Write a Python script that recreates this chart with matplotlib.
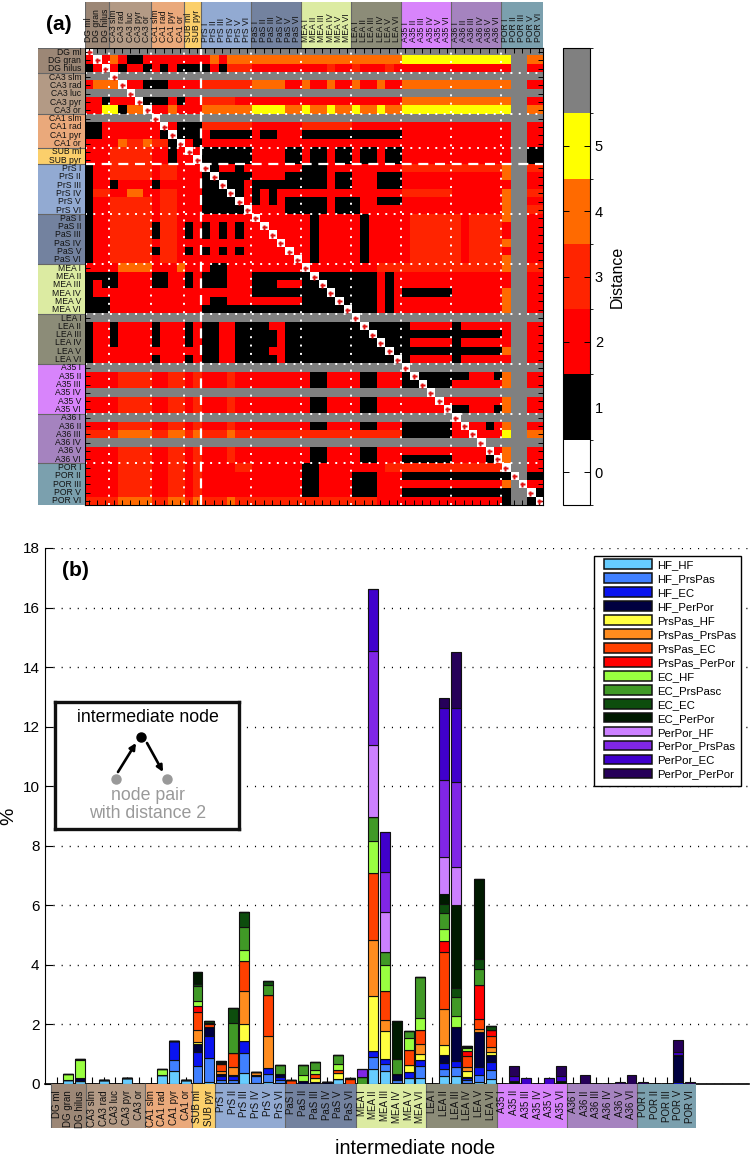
import numpy as np
import matplotlib
matplotlib.use('Agg')
import matplotlib.pyplot as plt
from matplotlib.colors import ListedColormap, BoundaryNorm
from matplotlib.patches import Rectangle, FancyArrowPatch

plt.rcParams['font.family'] = ['Liberation Sans', 'DejaVu Sans']

W, H = 750, 1159

# node names and the groups they belong to
group_names = ['DG', 'CA3', 'CA1', 'SUB', 'PrS', 'PaS', 'MEA', 'LEA', 'A35', 'A36', 'POR']
group_sizes = [3, 5, 4, 2, 6, 6, 6, 6, 6, 6, 5]
group_colors = ['#9c8776', '#b39a85', '#eaa97b', '#fbcf6b', '#92aad2', '#73829f',
                '#dcebA2', '#8c8c78', '#d884fb', '#a583bf', '#7ba0ae']
nodes = ['DG ml', 'DG gran', 'DG hilus',
         'CA3 slm', 'CA3 rad', 'CA3 luc', 'CA3 pyr', 'CA3 or',
         'CA1 slm', 'CA1 rad', 'CA1 pyr', 'CA1 or',
         'SUB ml', 'SUB pyr',
         'PrS I', 'PrS II', 'PrS III', 'PrS IV', 'PrS V', 'PrS VI',
         'PaS I', 'PaS II', 'PaS III', 'PaS IV', 'PaS V', 'PaS VI',
         'MEA I', 'MEA II', 'MEA III', 'MEA IV', 'MEA V', 'MEA VI',
         'LEA I', 'LEA II', 'LEA III', 'LEA IV', 'LEA V', 'LEA VI',
         'A35 I', 'A35 II', 'A35 III', 'A35 IV', 'A35 V', 'A35 VI',
         'A36 I', 'A36 II', 'A36 III', 'A36 IV', 'A36 V', 'A36 VI',
         'POR I', 'POR II', 'POR III', 'POR V', 'POR VI']

# distance matrix, one string per row, split by group. 6 = no data (gray)
distance_rows = [
    '066 66666 6666 66 666666 666666 666666 666666 666666 666666 66666',
    '202 42112 2222 22 242444 444444 444444 444444 555555 555555 56644',
    '120 21221 2121 11 121333 222222 222322 322232 222222 222222 26622',
    '666 06666 6666 66 666666 666666 666666 666666 666666 666666 66666',
    '244 40221 1122 22 333333 444422 422422 422422 444444 444444 46622',
    '666 66066 6666 66 666666 666666 666666 666666 666666 666666 66666',
    '221 22201 1121 22 333322 222222 222222 222222 444444 444444 46622',
    '225 51440 2242 22 444444 555544 544544 544544 555555 555555 56644',
    '666 66666 0666 66 666666 666666 666666 666666 666666 666666 66666',
    '112 22222 2021 11 333333 222222 333333 222222 222222 222222 26622',
    '112 22222 2101 11 211111 211222 111111 111111 222222 222222 26622',
    '222 24334 3310 21 222222 222222 222222 222222 222222 222222 26622',
    '222 33333 2212 02 111111 222211 211211 211211 222222 222222 26611',
    '222 33333 2212 20 111111 222211 211211 211211 222222 222222 26611',
    '122 33333 2332 22 012212 222222 111222 222222 333333 333333 46633',
    '122 33333 2332 22 101111 222211 111211 222111 222222 222222 46622',
    '122 12222 1222 22 110112 111111 111211 222111 222222 222222 26622',
    '133 22442 2332 22 111012 121222 222222 222222 333333 222222 46633',
    '122 33333 2332 22 111102 121211 111211 122111 222222 222222 46622',
    '122 33333 2332 22 111110 222211 111211 122222 222222 222222 46633',
    '122 33333 2332 22 222222 022222 212222 212222 233333 323333 46622',
    '122 33333 1332 12 121212 202222 212222 212222 233333 323333 26622',
    '122 33333 1332 12 121212 220222 212222 212222 233333 323333 26622',
    '122 33333 2332 22 222222 222022 212222 212222 233333 323333 46622',
    '122 33333 1332 12 121212 222202 212222 212222 233333 323333 26622',
    '122 33333 2332 22 222222 222220 212222 212222 233333 323333 46622',
    '222 24444 2224 22 211222 222222 022222 222333 333333 333333 46633',
    '111 12222 1122 12 111222 111111 101111 111212 222222 222222 26622',
    '121 12222 1122 12 111222 111222 110111 111212 222222 222222 26622',
    '122 22222 2222 22 222222 111111 111011 111212 111111 222222 46622',
    '111 22222 2222 22 211222 222222 111101 111212 222222 222222 46622',
    '111 22222 2222 22 111111 111111 111110 111212 222222 222222 46622',
    '666 66666 6666 66 666666 666666 666666 066666 666666 666666 66666',
    '122 12222 1222 12 112211 112211 111111 101111 122222 122222 26622',
    '122 12222 1222 12 112211 111211 111111 110111 111111 111111 26622',
    '122 12222 1222 12 112211 111211 111111 111011 122222 122222 26622',
    '122 22222 2222 22 112211 112211 111111 111101 111111 111111 46622',
    '122 22222 1222 12 112211 111211 111111 111110 122222 122222 26622',
    '666 66666 6666 66 666666 666666 666666 666666 066666 666666 66666',
    '222 23333 2233 23 222322 222222 211222 211222 101111 112221 46622',
    '222 23333 2233 23 222322 222222 211222 211222 110111 222222 46622',
    '666 66666 6666 66 666666 666666 666666 666666 666066 666666 66666',
    '222 23333 2233 23 222322 222222 211222 211222 222202 222222 46622',
    '222 23333 2233 23 222322 222222 211222 211222 222220 112221 46622',
    '666 66666 6666 66 666666 666666 666666 666666 666666 066666 66666',
    '222 23333 2233 23 222322 222222 211222 211222 111111 202212 46622',
    '333 34444 3344 34 333433 333333 333333 333333 111111 220222 56644',
    '666 66666 6666 66 666666 666666 666666 666666 666666 666066 66666',
    '222 23333 2233 23 222322 222222 211222 211222 222222 222202 46622',
    '222 23333 2233 23 222322 222222 211222 211222 111111 222210 46622',
    '222 23333 2233 23 222233 222222 112222 222233 333333 333333 06622',
    '222 23333 2233 23 222222 222222 112222 111222 111111 111111 10611',
    '222 23333 2233 23 222222 222222 112222 111222 222222 222222 46022',
    '222 23333 2233 23 222222 222222 112222 111222 111111 111111 16601',
    '333 34444 3344 34 333433 333333 333333 333222 222222 222222 16610',
]
distance_colors = ['#ffffff', '#000000', '#ff0000', '#ff2400', '#ff6a00', '#ffff00', '#808080']
distance_ticks = [0, 1, 2, 3, 4, 5]

# share of shortest paths per intermediate node, in %
# each list runs DG, CA3, CA1, SUB, PrS, PaS, MEA, LEA, A35, A36, POR
hf_hf = [0, .12, .08,  0, .12, 0, .2, 0,  0, .3, .43, .14,  .03, .05,
         .02, .02, .35, .03, .05, .02,  0, 0, 0, 0, .15, 0,
         0, .48, .42, .03, .2, .2,  0, .25, .25, .02, .05, .17,
         0, 0, 0, 0, 0, 0,  0, 0, 0, 0, 0, 0,  0, 0, 0, 0, 0]
hf_prspas = [0, 0, 0,  0, 0, 0, 0, 0,  0, 0, .35, 0,  .55, .82,
             .1, .12, .68, .22, .27, .12,  0, 0, 0, 0, 0, 0,
             0, .42, .25, .1, 0, .4,  0, .25, .3, .1, .25, .3,
             0, 0, 0, 0, 0, 0,  0, 0, 0, 0, 0, 0,  0, 0, 0, 0, 0]
hf_ec = [0, 0, 0,  0, 0, 0, 0, 0,  0, 0, .66, 0,  .49, .74,
         .15, .13, .4, 0, .2, .1,  0, 0, 0, 0, 0, 0,
         0, .2, .17, 0, .2, .2,  0, .2, .2, .07, .26, .26,
         0, 0, 0, 0, 0, 0,  0, 0, 0, 0, 0, 0,  0, 0, 0, .07, 0]
hf_perpor = [0, 0, .1,  0, 0, 0, 0, 0,  0, 0, 0, 0,  .27, .31,
             .05, .03, 0, .03, 0, .08,  0, .1, .05, .05, 0, 0,
             0, 0, 0, .2, 0, 0,  0, .25, 1.15, .05, 1.17, .22,
             0, 0, 0, 0, 0, 0,  0, 0, 0, 0, 0, 0,  0, 0, 0, .88, 0]
prspas_hf = [0, 0, 0,  0, 0, 0, 0, 0,  0, 0, 0, 0,  .06, 0,
             0, 0, .58, 0, 0, 0,  0, 0, .13, 0, .2, 0,
             0, 1.85, .92, 0, .22, .2,  0, .34, 0, .2, 0, .13,
             0, 0, 0, 0, 0, 0,  0, 0, 0, 0, 0, 0,  0, 0, 0, 0, 0]
prspas_prspas = [0, 0, 0,  0, 0, 0, 0, 0,  0, 0, 0, 0,  .42, 0,
                 .1, .27, 1.12, .1, 1.07, 0,  0, 0, 0, 0, 0, 0,
                 0, 1.88, .39, 0, 0, .35,  0, 1.21, 0, .13, .1, .14,
                 0, 0, 0, 0, 0, 0,  0, 0, 0, 0, 0, 0,  0, 0, 0, 0, 0]
prspas_ec = [0, 0, 0,  0, 0, 0, 0, 0,  0, 0, 0, 0,  .59, .1,
             .23, .47, .98, 0, 1.38, 0,  .14, 0, .13, 0, .12, .17,
             0, 2.26, .98, 0, .5, .47,  0, 1.91, 0, .35, .35, .37,
             0, 0, 0, 0, 0, 0,  0, 0, 0, 0, 0, 0,  0, 0, 0, 0, 0]
prspas_perpor = [0, 0, 0,  0, 0, 0, 0, 0,  0, 0, 0, 0,  .19, .03,
                 0, 0, 0, 0, 0, 0,  0, 0, 0, 0, 0, 0,
                 0, 0, 0, 0, 0, 0,  0, .38, 0, .17, 1.13, .2,
                 0, 0, 0, 0, 0, 0,  0, 0, 0, 0, 0, 0,  0, 0, 0, 0, 0]
ec_hf = [0, .2, .6,  0, 0, 0, 0, 0,  0, .18, 0, 0,  .18, 0,
         0, 0, .37, 0, 0, 0,  0, .2, .14, 0, .2, 0,
         0, 1.05, .85, 0, .4, .4,  0, .4, .37, .1, 0, 0,
         0, 0, 0, 0, 0, 0,  0, 0, 0, 0, 0, 0,  0, 0, 0, 0, 0]
ec_prspasc = [0, 0, .04,  0, 0, 0, 0, 0,  0, 0, 0, 0,  .49, 0,
              .04, .99, .78, 0, .35, .32,  0, .33, .27, 0, .3, .03,
              .22, .81, .46, .5, .25, 1.35,  0, .54, .65, .05, .55, 0,
              0, 0, 0, 0, 0, 0,  0, 0, 0, 0, 0, 0,  0, 0, 0, 0, 0]
ec_ec = [0, 0, 0,  0, 0, 0, 0, 0,  0, 0, 0, 0,  .09, .04,
         .04, .5, .5, 0, .12, 0,  0, 0, 0, 0, 0, 0,
         0, 0, 0, 0, 0, 0,  0, .32, .3, .04, .32, .14,
         0, 0, 0, 0, 0, 0,  0, 0, 0, 0, 0, 0,  0, 0, 0, 0, 0]
ec_perpor = [0, 0, 0,  0, 0, 0, 0, 0,  0, 0, 0, 0,  .39, 0,
             .04, 0, 0, 0, 0, 0,  0, 0, 0, 0, 0, 0,
             0, 0, 0, 1.27, 0, 0,  0, .31, 2.79, 0, 2.71, 0,
             0, .1, 0, 0, 0, .1,  0, 0, 0, 0, 0, 0,  0, 0, 0, 0, 0]
perpor_hf = [0, 0, 0,  0, 0, 0, 0, 0,  0, 0, 0, 0,  0, 0,
             0, 0, 0, 0, 0, 0,  0, 0, 0, 0, 0, 0,
             0, 2.44, 1.33, 0, 0, 0,  0, 1.27, 1.27, 0, 0, 0,
             0, 0, 0, 0, 0, 0,  0, 0, 0, 0, 0, 0,  0, 0, 0, 0, 0]
perpor_prspas = [0, 0, 0,  0, 0, 0, 0, 0,  0, 0, 0, 0,  0, 0,
                 0, 0, 0, 0, 0, 0,  0, 0, 0, 0, 0, 0,
                 .28, 3.16, 1.35, 0, 0, 0,  0, 2.56, 2.87, 0, 0, 0,
                 0, 0, 0, 0, 0, 0,  0, 0, 0, 0, 0, 0,  0, 0, 0, 0, 0]
perpor_ec = [0, 0, 0,  0, 0, 0, 0, 0,  0, 0, 0, 0,  0, 0,
             0, 0, 0, 0, 0, 0,  0, 0, 0, 0, 0, 0,
             0, 2.06, 1.34, 0, 0, 0,  0, 2.43, 2.46, 0, 0, 0,
             0, .15, .2, 0, .2, .15,  0, 0, 0, 0, 0, 0,  0, 0, 0, .1, 0]
perpor_perpor = [0, 0, 0,  0, 0, 0, 0, 0,  0, 0, 0, 0,  0, 0,
                 0, 0, 0, 0, 0, 0,  0, 0, 0, 0, 0, 0,
                 0, 0, 0, 0, 0, 0,  0, .33, 1.89, 0, 0, 0,
                 0, .35, 0, 0, 0, .35,  0, .28, 0, 0, .06, .28,  .07, 0, 0, .43, .07]

series_names = ['HF_HF', 'HF_PrsPas', 'HF_EC', 'HF_PerPor',
                'PrsPas_HF', 'PrsPas_PrsPas', 'PrsPas_EC', 'PrsPas_PerPor',
                'EC_HF', 'EC_PrsPasc', 'EC_EC', 'EC_PerPor',
                'PerPor_HF', 'PerPor_PrsPas', 'PerPor_EC', 'PerPor_PerPor']
series_values = [hf_hf, hf_prspas, hf_ec, hf_perpor,
                 prspas_hf, prspas_prspas, prspas_ec, prspas_perpor,
                 ec_hf, ec_prspasc, ec_ec, ec_perpor,
                 perpor_hf, perpor_prspas, perpor_ec, perpor_perpor]
series_colors = ['#66ccff', '#4080ff', '#0a14f0', '#000040',
                 '#ffff40', '#ff8c1e', '#ff4000', '#ff0000',
                 '#99ff40', '#409926', '#0d4d0d', '#001a00',
                 '#cc80ff', '#8026e6', '#4000cc', '#260059']


def box(left, top, right, bottom):
    # axes rectangle from pixel edges of the picture
    return [left / W, 1 - bottom / H, (right - left) / W, (bottom - top) / H]


def draw_strip(ax, vertical):
    # colored group blocks with one label per node
    ax.set_xticks([])
    ax.set_yticks([])
    for s in ax.spines.values():
        s.set_visible(False)
    start = -0.5
    for size, color in zip(group_sizes, group_colors):
        if vertical:
            ax.axhspan(start, start + size, color=color, lw=0)
            ax.axhline(start, color='#666666', lw=0.8)
        else:
            ax.axvspan(start, start + size, color=color, lw=0)
            ax.axvline(start, color='#666666', lw=0.8)
        start += size


matrix = np.array([[int(c) for c in row.replace(' ', '')] for row in distance_rows])
n = len(nodes)
edges = np.cumsum(group_sizes)[:-1] - 0.5

fig = plt.figure(figsize=(W / 100, H / 100), dpi=100)

# (a) distance matrix
ax_a = fig.add_axes(box(84.5, 48, 542.7, 505))
cmap = ListedColormap(distance_colors)
norm = BoundaryNorm(np.arange(-0.5, 7.5), cmap.N)
im = ax_a.imshow(matrix, cmap=cmap, norm=norm, aspect='auto', interpolation='nearest')
ax_a.plot(range(n), range(n), ls='none', marker='P', ms=3.6, mfc='#e01010', mec='none')
for e in edges:
    if e == 13.5:
        ax_a.axvline(e, color='white', lw=1.6, ls=(0, (4.5, 3)))
        ax_a.axhline(e, color='white', lw=1.6, ls=(0, (4.5, 3)))
    else:
        ax_a.axvline(e, color='white', lw=1.4, ls=(0, (1, 3.29)))
        ax_a.axhline(e, color='white', lw=1.4, ls=(0, (1, 3.29)))
ax_a.set_xticks(range(n))
ax_a.set_yticks(range(n))
ax_a.tick_params(direction='in', length=3.5, width=0.7, top=True, right=True,
                 labelleft=False, labelbottom=False)
for s in ax_a.spines.values():
    s.set_linewidth(0.8)
ax_a.set_xlim(-0.5, n - 0.5)
ax_a.set_ylim(n - 0.5, -0.5)

ax_top = fig.add_axes(box(84.5, 2, 542.7, 48))
ax_top.set_xlim(-0.5, n - 0.5)
ax_top.set_ylim(0, 1)
draw_strip(ax_top, False)
for i, name in enumerate(nodes):
    ax_top.text(i, 0.13, name, rotation=90, ha='center', va='bottom', fontsize=6.2, color='#111111')

ax_left = fig.add_axes(box(38, 48, 84.5, 505))
ax_left.set_xlim(0, 1)
ax_left.set_ylim(n - 0.5, -0.5)
draw_strip(ax_left, True)
for i, name in enumerate(nodes):
    ax_left.text(0.93, i, name, ha='right', va='center', fontsize=6.2, color='#111111')

fig.text(46 / W, 1 - 25 / H, '(a)', fontsize=15, fontweight='bold', va='center')

cax = fig.add_axes(box(563, 48, 590, 505))
cbar = fig.colorbar(im, cax=cax, ticks=distance_ticks)
cbar.ax.tick_params(direction='in', length=4, width=0.7, left=True, right=True, labelsize=10.5)
cbar.outline.set_linewidth(0.8)
cbar.set_label('Distance', fontsize=11.5, labelpad=5)

# (b) stacked bars
ax_b = fig.add_axes(box(45, 548, 748.8, 1083.7))
bottom = np.zeros(n)
x = np.arange(n)
for name, values, color in zip(series_names, series_values, series_colors):
    ax_b.bar(x, values, 0.85, bottom=bottom, color=color, edgecolor='#101010', lw=0.8,
             label=name, zorder=3)
    bottom += np.array(values)
ax_b.set_xlim(-1, 59)
ax_b.set_ylim(0, 18)
ax_b.set_yticks(range(0, 19, 2))
ax_b.set_xticks(x)
ax_b.set_xticklabels([])
ax_b.tick_params(axis='x', direction='in', length=5, width=0.8)
ax_b.tick_params(axis='y', direction='in', length=6, width=0.8, labelsize=11, pad=4)
ax_b.grid(axis='y', color='black', lw=1, ls=(0, (0.8, 5)))
ax_b.set_axisbelow(True)
ax_b.spines['top'].set_visible(False)
ax_b.spines['right'].set_visible(False)
ax_b.spines['bottom'].set_linewidth(1.2)
fig.text(9 / W, 1 - 816 / H, '%', fontsize=14, rotation=90, ha='center', va='center')

# legend frame is placed on its own so the inner padding can differ per side
ax_b.add_patch(Rectangle(((594 - 45) / 703.8, 1 - (785.7 - 548) / 535.7), 147 / 703.8, 229.7 / 535.7,
                         transform=ax_b.transAxes, facecolor='white', edgecolor='black', lw=1, zorder=4))
leg = ax_b.legend(loc='upper left', bbox_to_anchor=((604 - 45) / 703.8, 1 - (559.5 - 548) / 535.7),
                  borderaxespad=0, borderpad=0, fontsize=8.2, handlelength=4.2, handleheight=0.9,
                  handletextpad=0.45, labelspacing=0.29, frameon=False)
leg.set_zorder(5)
for h in leg.legend_handles:
    h.set_linewidth(1.1)

ax_strip = fig.add_axes(box(45, 1084, 748.8, 1128))
ax_strip.set_xlim(-1, 59)
ax_strip.set_ylim(1, 0)
ax_strip.patch.set_alpha(0)
draw_strip(ax_strip, False)
for i, name in enumerate(nodes):
    ax_strip.text(i, 0.14, name, rotation=90, ha='center', va='top', fontsize=7, color='#111111')
fig.text(415 / W, 1 - 1149 / H, 'intermediate node', fontsize=14.4, ha='center', va='center')
fig.text(62 / W, 1 - 570 / H, '(b)', fontsize=15, fontweight='bold', va='center')

# inset sketch of a node pair and its intermediate node
ax_i = fig.add_axes(box(55, 702, 239, 829))
ax_i.set_xlim(55, 239)
ax_i.set_ylim(829, 702)
ax_i.set_xticks([])
ax_i.set_yticks([])
for s in ax_i.spines.values():
    s.set_linewidth(2.4)
    s.set_color('#111111')
ax_i.text(148, 718, 'intermediate node', fontsize=12.8, ha='center', va='center')
ax_i.text(148, 795, 'node pair', fontsize=12.8, color='#999999', ha='center', va='center')
ax_i.text(148, 814, 'with distance 2', fontsize=12.8, color='#999999', ha='center', va='center')
ax_i.plot([141], [737], 'o', ms=6.5, color='black')
ax_i.plot([116, 167], [779, 779], 'o', ms=6.5, color='#999999', ls='none')
ax_i.add_patch(FancyArrowPatch((118, 772), (136, 743), arrowstyle='-|>', mutation_scale=9,
                               lw=1.9, color='black', shrinkA=0, shrinkB=0))
ax_i.add_patch(FancyArrowPatch((147, 743), (163, 772), arrowstyle='-|>', mutation_scale=9,
                               lw=1.9, color='black', shrinkA=0, shrinkB=0))

fig.savefig('out.png', dpi=100)
